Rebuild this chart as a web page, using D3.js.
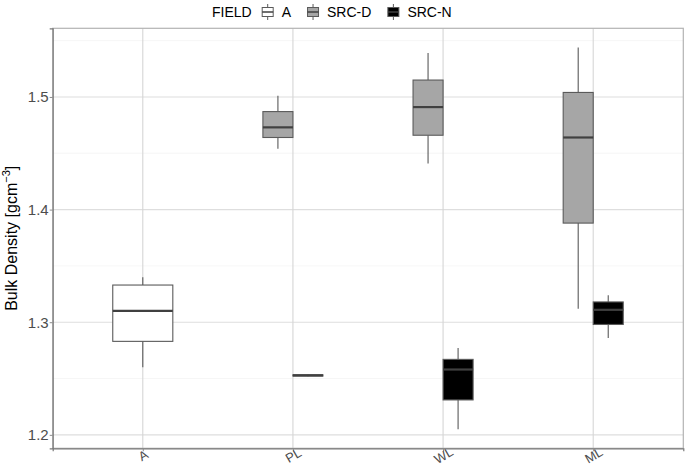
<!DOCTYPE html>
<html>
<head>
<meta charset="utf-8">
<script src="https://cdn.jsdelivr.net/npm/d3@7"></script>
<style>
  body { margin: 0; background: #fff; }
  text { font-family: "Liberation Sans", Arial, sans-serif; }
</style>
</head>
<body>
<div id="chart"></div>
<script>
// data
const categories = ["A", "PL", "WL", "ML"];
const fields = ["A", "SRC-D", "SRC-N"];
const fieldFill = ["#ffffff", "#a6a6a6", "#000000"];

const boxCategory = ["A", "PL", "PL", "WL", "WL", "ML", "ML"];
const boxField = ["A", "SRC-D", "SRC-N", "SRC-D", "SRC-N", "SRC-D", "SRC-N"];
const whiskerLow = [1.260, 1.454, 1.2520, 1.441, 1.205, 1.312, 1.286];
const q1 = [1.283, 1.464, 1.2522, 1.466, 1.231, 1.388, 1.298];
const median = [1.310, 1.473, 1.2528, 1.491, 1.258, 1.464, 1.311];
const q3 = [1.333, 1.487, 1.2533, 1.515, 1.267, 1.504, 1.318];
const whiskerHigh = [1.340, 1.501, 1.2535, 1.539, 1.277, 1.544, 1.324];

const yTicks = [1.2, 1.3, 1.4, 1.5];
const yMinorTicks = [1.25, 1.35, 1.45, 1.55];

const width = 685, height = 467;
const margin = {top: 28.3, right: 1.7, bottom: 18.7, left: 52.7};

const svg = d3.select("#chart").append("svg")
    .attr("width", width)
    .attr("height", height);

const x = d3.scalePoint()
    .domain(categories)
    .range([margin.left, width - margin.right])
    .padding(0.6);
const step = x.step();

// ggplot style 5% expansion around the data
const lo = d3.min(whiskerLow), hi = d3.max(whiskerHigh);
const pad = (hi - lo) * 0.05;
const y = d3.scaleLinear()
    .domain([lo - pad, hi + pad])
    .range([height - margin.bottom, margin.top]);

const color = d3.scaleOrdinal().domain(fields).range(fieldFill);

// grid
const grid = svg.append("g");
grid.selectAll("line.minor")
    .data(yMinorTicks)
    .join("line")
    .attr("x1", margin.left).attr("x2", width - margin.right)
    .attr("y1", d => y(d)).attr("y2", d => y(d))
    .attr("stroke", "#f0f0f0")
    .attr("stroke-width", 0.6);
grid.selectAll("line.majy")
    .data(yTicks)
    .join("line")
    .attr("x1", margin.left).attr("x2", width - margin.right)
    .attr("y1", d => y(d)).attr("y2", d => y(d))
    .attr("stroke", "#dedede")
    .attr("stroke-width", 1.1);
grid.selectAll("line.majx")
    .data(categories)
    .join("line")
    .attr("x1", d => x(d)).attr("x2", d => x(d))
    .attr("y1", margin.top).attr("y2", height - margin.bottom)
    .attr("stroke", "#d6d6d6")
    .attr("stroke-width", 1.1);

// boxes
const boxes = d3.range(boxCategory.length).map(i => {
    const n = boxCategory.filter(c => c === boxCategory[i]).length;
    const k = boxCategory.slice(0, i).filter(c => c === boxCategory[i]).length;
    const w = step * 0.4 / n;
    const cx = x(boxCategory[i]) - step * 0.2 + w * (k + 0.5);
    return {i, cx, w};
});

const g = svg.append("g");
boxes.forEach(b => {
    const i = b.i;
    const stroke = "#5a5a5a";
    g.append("line")
        .attr("x1", b.cx).attr("x2", b.cx)
        .attr("y1", y(whiskerHigh[i])).attr("y2", y(q3[i]))
        .attr("stroke", stroke).attr("stroke-width", 1.1);
    g.append("line")
        .attr("x1", b.cx).attr("x2", b.cx)
        .attr("y1", y(q1[i])).attr("y2", y(whiskerLow[i]))
        .attr("stroke", stroke).attr("stroke-width", 1.1);
    g.append("rect")
        .attr("x", b.cx - b.w / 2)
        .attr("width", b.w)
        .attr("y", y(q3[i]))
        .attr("height", Math.max(0.1, y(q1[i]) - y(q3[i])))
        .attr("fill", color(boxField[i]))
        .attr("stroke", stroke)
        .attr("stroke-width", 1.1);
    g.append("line")
        .attr("x1", b.cx - b.w / 2).attr("x2", b.cx + b.w / 2)
        .attr("y1", y(median[i])).attr("y2", y(median[i]))
        .attr("stroke", "#404040").attr("stroke-width", 2.2);
});

// panel border + axes
svg.append("rect")
    .attr("x", margin.left).attr("y", margin.top)
    .attr("width", width - margin.left - margin.right)
    .attr("height", height - margin.top - margin.bottom)
    .attr("fill", "none")
    .attr("stroke", "#b3b3b3")
    .attr("stroke-width", 1.2);

const yAxis = svg.append("g")
    .attr("transform", `translate(${margin.left},0)`)
    .call(d3.axisLeft(y).tickValues(yTicks).tickSize(3).tickFormat(d3.format(".1f")));
const xAxis = svg.append("g")
    .attr("transform", `translate(0,${height - margin.bottom})`)
    .call(d3.axisBottom(x).tickSize(3));

[yAxis, xAxis].forEach(a => {
    a.select(".domain").attr("stroke", "#7a7a7a").attr("stroke-width", 1.2);
    a.selectAll(".tick line").attr("stroke", "#8c8c8c");
    a.selectAll(".tick text")
        .attr("fill", "#4d4d4d")
        .style("font-size", "15px");
});
yAxis.selectAll(".tick text").attr("x", -4);
xAxis.selectAll(".tick text")
    .attr("y", 0).attr("dy", "0.35em")
    .attr("text-anchor", "middle")
    .style("font-size", "13px")
    .attr("transform", "translate(0,7) rotate(-30)");

// y title
svg.append("text")
    .attr("transform", `translate(17,${(margin.top + height - margin.bottom) / 2}) rotate(-90)`)
    .attr("text-anchor", "middle")
    .attr("fill", "#000")
    .style("font-size", "16px")
    .html('Bulk Density [gcm<tspan dy="-7" style="font-size:11px">−3</tspan><tspan dy="7">]</tspan>');

// legend
const legend = svg.append("g").attr("transform", "translate(212,0)");
let lx = 0;
const title = legend.append("text")
    .attr("x", lx).attr("y", 17)
    .style("font-size", "14px")
    .text("FIELD");
lx += title.node().getComputedTextLength() + 8;
fields.forEach(f => {
    const key = legend.append("g").attr("transform", `translate(${lx},3)`);
    key.append("line")
        .attr("x1", 8).attr("x2", 8).attr("y1", 1).attr("y2", 17)
        .attr("stroke", "#5a5a5a");
    key.append("rect")
        .attr("x", 2.5).attr("y", 4.5).attr("width", 11).attr("height", 9)
        .attr("fill", color(f)).attr("stroke", "#5a5a5a");
    key.append("line")
        .attr("x1", 2.5).attr("x2", 13.5).attr("y1", 9).attr("y2", 9)
        .attr("stroke", "#404040").attr("stroke-width", 1.5);
    lx += 22;
    const t = legend.append("text")
        .attr("x", lx).attr("y", 17)
        .style("font-size", "14px")
        .text(f);
    lx += t.node().getComputedTextLength() + 14;
});
</script>
</body>
</html>
